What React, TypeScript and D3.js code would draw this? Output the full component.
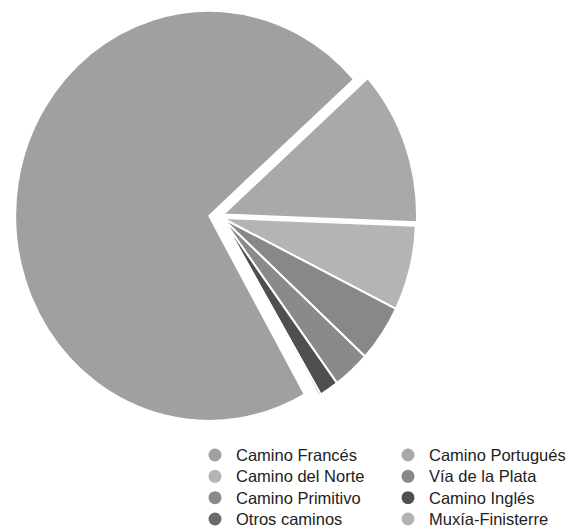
import { useEffect, useRef } from 'react';
import * as d3 from 'd3';

// Reparto de peregrinos por camino (%)
const caminos = [
  'Camino Francés',
  'Camino Portugués',
  'Camino del Norte',
  'Vía de la Plata',
  'Camino Primitivo',
  'Camino Inglés',
  'Otros caminos',
  'Muxía-Finisterre',
];
const valores = [71.6, 12.2, 6.7, 4.5, 3.1, 1.6, 0.2, 0.1];
const colores = ['#a0a0a0', '#a9a9a9', '#b4b4b4', '#888888', '#8a8a8a', '#4f4f4f', '#6a6a6a', '#b2b2b2'];

// orden de la leyenda (dos columnas)
const leyendaCol1 = ['Camino Francés', 'Camino del Norte', 'Camino Primitivo', 'Otros caminos'];
const leyendaCol2 = ['Camino Portugués', 'Vía de la Plata', 'Camino Inglés', 'Muxía-Finisterre'];

export default function App() {
  const svgRef = useRef<SVGSVGElement>(null);

  useEffect(() => {
    document.body.style.margin = '0';
    if (!svgRef.current) return;

    const width = 578;
    const height = 529;
    const cx = 222;
    const cy = 218;
    const rx = 194;
    const ry = 205;

    const svg = d3.select(svgRef.current);
    svg.selectAll('*').remove();
    svg.attr('width', width).attr('height', height);

    const color = d3.scaleOrdinal<string, string>().domain(caminos).range(colores);

    const start = (150.5 * Math.PI) / 180;
    const pie = d3.pie<number>()
      .sort(null)
      .startAngle(start)
      .endAngle(start + 2 * Math.PI);

    const arcs = pie(valores);
    const arc = d3.arc<d3.PieArcDatum<number>>().innerRadius(0).outerRadius(ry);

    // porciones separadas del centro: Francés hacia fuera, Portugués un poco hacia arriba
    const desplazamiento = (d: d3.PieArcDatum<number>, i: number): [number, number] => {
      if (i === 0) {
        const m = (d.startAngle + d.endAngle) / 2;
        return [Math.sin(m) * 13, -Math.cos(m) * 13];
      }
      if (i === 1) return [1, -3.5];
      return [0, 0];
    };

    const g = svg.append('g').attr('transform', `translate(${cx},${cy})`);

    g.selectAll('path')
      .data(arcs)
      .enter()
      .append('path')
      .attr('transform', (d, i) => {
        const [dx, dy] = desplazamiento(d, i);
        return `translate(${dx},${dy}) scale(${rx / ry},1)`;
      })
      .attr('d', arc)
      .attr('fill', (_, i) => color(caminos[i]))
      .attr('stroke', '#fff')
      .attr('stroke-width', 2)
      .attr('vector-effect', 'non-scaling-stroke')
      .attr('stroke-linejoin', 'round');

    // Leyenda
    const rowY = d3.scalePoint<number>().domain([0, 1, 2, 3]).range([455, 519]);
    const cols = [
      { items: leyendaCol1, x: 215 },
      { items: leyendaCol2, x: 408 },
    ];

    cols.forEach(col => {
      const lg = svg.append('g');
      col.items.forEach((name, i) => {
        lg.append('circle')
          .attr('cx', col.x)
          .attr('cy', rowY(i) as number)
          .attr('r', 6.5)
          .attr('fill', color(name));
        lg.append('text')
          .attr('x', col.x + 21)
          .attr('y', rowY(i) as number)
          .attr('dy', '0.36em')
          .attr('font-family', '"Liberation Sans", Arial, sans-serif')
          .attr('font-size', '16.5px')
          .attr('fill', '#222')
          .text(name);
      });
    });
  }, []);

  return <svg ref={svgRef} style={{ display: 'block' }} />;
}
